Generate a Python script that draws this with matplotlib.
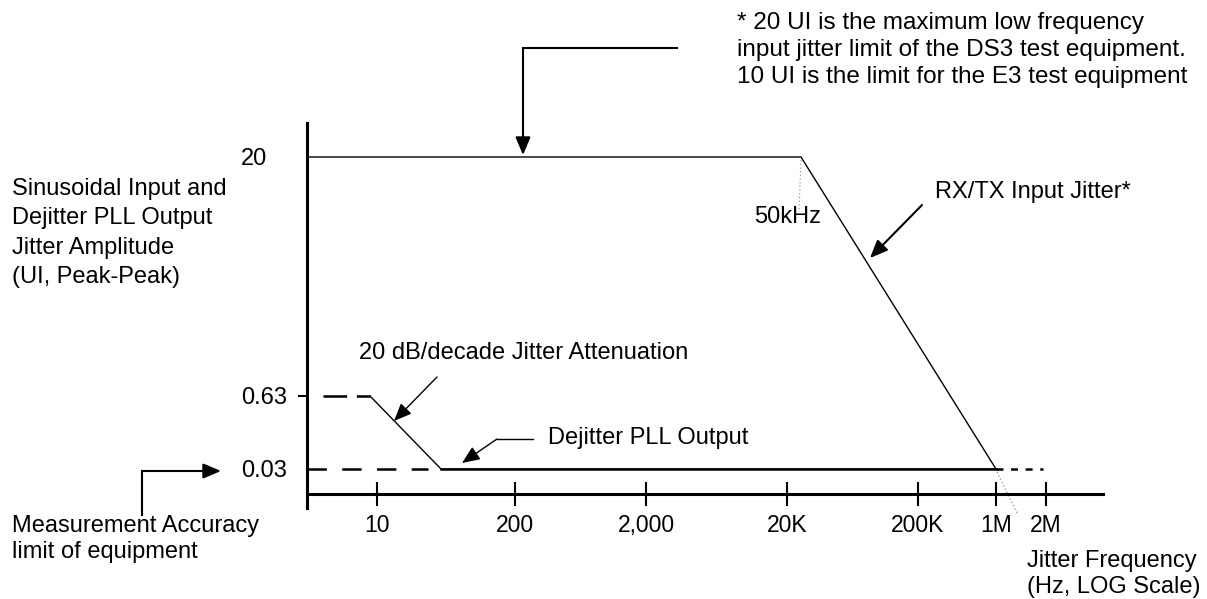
import matplotlib
matplotlib.use("Agg")
import matplotlib.pyplot as plt

plt.rcParams['font.family'] = ['Liberation Sans', 'DejaVu Sans']
plt.rcParams['lines.scale_dashes'] = False

# schematic jitter tolerance diagram - axes are not to scale,
# so everything is placed in picture units (px)
x_labels = ["10", "200", "2,000", "20K", "200K", "1M", "2M"]
x_ticks = [377, 515, 646, 787, 918, 996, 1046]
y_labels = ["0.03", "0.63", "20"]
y_levels = [469, 396, 157]
knee_50k = 801           # 50 kHz corner of the input jitter curve
origin_x = 307
xaxis_y = 494

# RX/TX input jitter: flat 20 UI up to 50 kHz, falls to 0.03 UI at 1M
input_x = [origin_x, knee_50k, x_ticks[5]]
input_y = [y_levels[2], y_levels[2], y_levels[0]]

# dejitter PLL output: 0.63 UI near 10 Hz, 20 dB/dec down to 0.03 UI
dejit_start = 370
dejit_knee = 441
dejit_x = [dejit_start, dejit_knee, x_ticks[5]]
dejit_y = [y_levels[1], y_levels[0], y_levels[0]]

W, H = 1207, 599
fig = plt.figure(figsize=(W / 100, H / 100), dpi=100)
ax = fig.add_axes([origin_x / W, (H - 508) / H, (1103 - origin_x) / W, (508 - 123) / H])
ax.set_xlim(origin_x, 1103)
ax.set_ylim(508, 123)

for s in ['top', 'right']:
    ax.spines[s].set_visible(False)
ax.spines['left'].set_linewidth(2.2)
ax.spines['bottom'].set_linewidth(2.2)
ax.spines['bottom'].set_position(('data', xaxis_y))

ax.set_xticks(x_ticks, x_labels)
ax.tick_params(axis='x', direction='inout', length=17, width=1.5, pad=6, labelsize=16.5)
ax.set_yticks([y_levels[1]], [''])
ax.tick_params(axis='y', direction='out', length=6.5, width=1.5)

for lab, yv, xr in zip(y_labels, y_levels, [287, 287, 267]):
    ax.text(xr, yv + 2, lab, ha='right', va='center', fontsize=17, clip_on=False)

# curves
ax.plot(input_x, input_y, color='black', lw=1.0, clip_on=False)
ax.plot([x_ticks[5], 1043], [y_levels[0], y_levels[0]], color='black', lw=1.8,
        dashes=(5, 5.5), clip_on=False)
ax.plot([997, 1018], [472, 515], color='#888888', lw=0.8, ls=':', clip_on=False)
ax.plot([knee_50k, knee_50k - 2], [160, 212], color='#999999', lw=0.8, ls=':')

ax.plot(dejit_x, dejit_y, color='black', lw=1.0, clip_on=False)
ax.plot([dejit_knee, x_ticks[5]], [y_levels[0], y_levels[0]], color='black', lw=1.8)
ax.plot([origin_x, 428], [y_levels[0], y_levels[0]], color='black', lw=1.8,
        dashes=(14, 11), clip_on=False)
ax.plot([323, dejit_start], [y_levels[1], y_levels[1]], color='black', lw=1.8,
        dashes=(17, 7), clip_on=False)


def arrow(start, tip, lw):
    ax.annotate('', xy=tip, xytext=start, annotation_clip=False,
                arrowprops=dict(arrowstyle='-|>,head_length=0.9,head_width=0.38',
                                color='black', lw=lw, shrinkA=0, shrinkB=0,
                                mutation_scale=12))


# callouts
ax.plot([677, 523], [48, 48], color='black', lw=1.5, clip_on=False)
arrow((523, 48), (523, 155), 1.5)
arrow((922, 205), (870, 258), 1.5)
arrow((437, 377), (394, 421), 1.0)
ax.plot([533, 497], [439, 439], color='black', lw=1.0, clip_on=False)
arrow((497, 439), (462, 463), 1.0)
ax.plot([142, 142], [515, 471], color='black', lw=1.5, clip_on=False)
arrow((142, 471), (221, 471), 1.5)

fs = 17
ax.text(737, 50, "* 20 UI is the maximum low frequency\ninput jitter limit of the DS3 test equipment.\n10 UI is the limit for the E3 test equipment",
        ha='left', va='center', fontsize=17.5, linespacing=1.28, clip_on=False)
ax.text(935, 192, "RX/TX Input Jitter*", ha='left', va='center', fontsize=fs, clip_on=False)
ax.text(754, 217, "50kHz", ha='left', va='center', fontsize=fs, clip_on=False)
ax.text(359, 353, "20 dB/decade Jitter Attenuation", ha='left', va='center', fontsize=fs, clip_on=False)
ax.text(548, 438, "Dejitter PLL Output", ha='left', va='center', fontsize=fs, clip_on=False)
ax.text(12, 233, "Sinusoidal Input and\nDejitter PLL Output\nJitter Amplitude\n(UI, Peak-Peak)",
        ha='left', va='center', fontsize=fs, linespacing=1.43, clip_on=False)
ax.text(12, 539, "Measurement Accuracy\nlimit of equipment", ha='left', va='center',
        fontsize=fs, linespacing=1.27, clip_on=False)
ax.text(1027, 574, "Jitter Frequency\n(Hz, LOG Scale)", ha='left', va='center',
        fontsize=fs, linespacing=1.27, clip_on=False)

fig.savefig("out.png", dpi=100)
